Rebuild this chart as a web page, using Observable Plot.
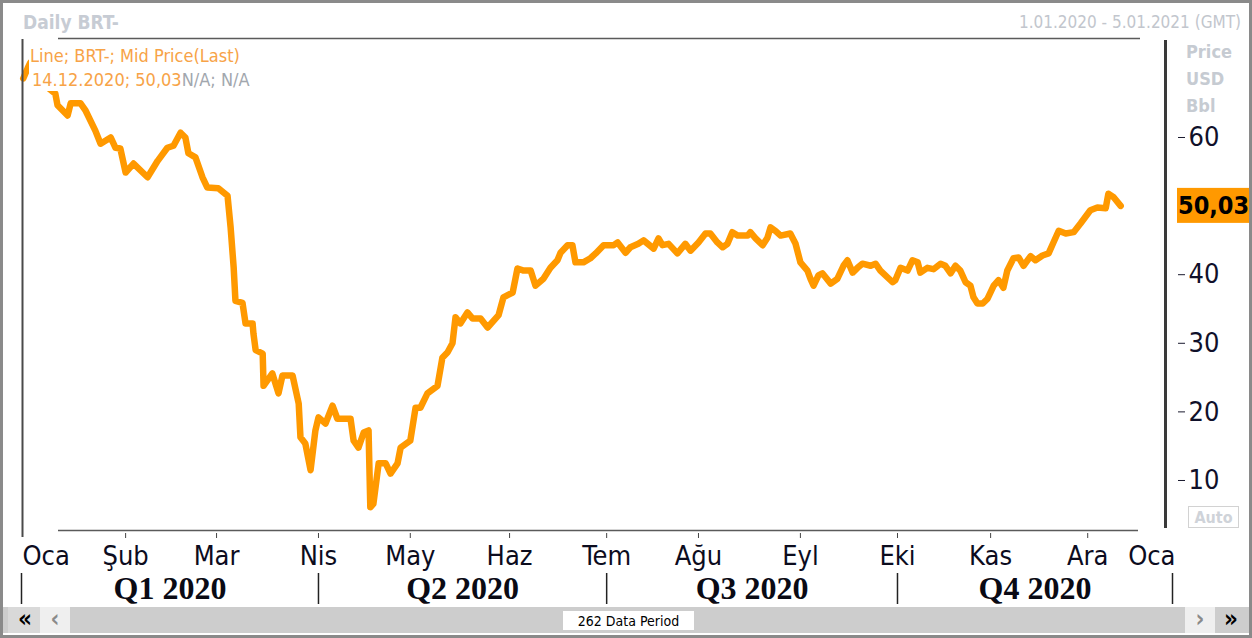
<!DOCTYPE html>
<html><head><meta charset="utf-8">
<script src="https://cdn.jsdelivr.net/npm/d3@7"></script>
<script src="https://cdn.jsdelivr.net/npm/@observablehq/plot@0.6"></script>
<style>
html,body{margin:0;padding:0;background:#fff;}
#chart{position:relative;width:1252px;height:638px;overflow:hidden;}
#chart svg{display:block;}
</style></head><body>
<div id="chart"></div>
<script>
// Trading-period index (0 = 1 Jan 2020, 262 = 1 Jan 2021) and Brent mid price (USD/bbl)
const periods = [0.4,1.4,2.0,3.5,5.0,6.5,7.7,8.2,10.5,11.2,13.4,14.6,16.8,18.0,20.3,21.4,22.5,23.7,25.5,28.7,31.0,33.2,34.6,36.2,37.3,38.0,39.6,41.2,42.3,44.8,46.9,47.6,48.3,48.7,50.3,51.0,52.6,52.8,53.3,54.9,55.1,57.1,58.5,59.4,61.7,63.1,63.5,64.6,65.8,66.9,67.6,69.2,70.8,71.9,74.9,75.6,76.7,77.9,79.0,79.4,80.1,81.3,82.9,84.0,85.6,86.3,88.5,89.7,90.8,92.4,94.7,95.8,97.0,98.1,98.8,99.9,101.5,102.7,104.5,106.1,108.6,109.7,111.8,112.9,114.3,115.9,117.0,118.8,120.4,122.0,122.7,124.3,125.4,126.1,127.9,129.5,130.7,132.5,134.8,135.7,137.5,138.6,140.4,141.6,143.9,145.0,145.9,147.3,149.3,151.1,152.3,154.1,155.7,156.8,158.4,159.6,160.7,161.8,163.0,165.3,165.9,167.1,168.7,169.8,170.5,171.6,172.8,175.0,176.2,177.3,178.9,179.6,180.3,181.4,182.3,184.2,185.7,187.1,188.0,189.2,190.3,191.4,193.3,194.4,195.5,198.3,198.9,200.1,201.7,202.8,204.0,204.6,206.2,207.6,209.2,210.3,211.5,212.6,213.7,214.9,216.0,216.7,217.6,218.8,219.9,221.3,222.4,223.5,224.4,225.8,227.0,228.1,229.7,230.8,232.4,233.8,234.9,236.1,237.7,239.5,241.1,243.3,244.9,246.8,247.4,248.6,250.2];
const prices = [68.6,70.1,70.9,70.0,68.0,67.0,66.4,64.7,63.2,65.0,65.0,63.9,61.0,59.1,60.0,58.5,58.4,54.9,56.2,54.2,56.6,58.5,58.8,60.7,60.0,57.7,57.1,54.2,52.7,52.6,51.5,46.9,41.0,36.2,35.9,32.9,32.9,31.4,29.0,28.5,23.8,25.6,22.7,25.3,25.3,21.2,16.3,15.4,11.5,17.3,19.2,18.3,20.9,19.0,19.0,15.8,14.8,17.0,17.3,6.1,6.6,12.5,12.5,11.0,12.5,14.8,15.8,20.6,20.6,22.7,23.8,27.9,28.7,30.0,33.8,32.9,34.5,33.6,33.6,32.3,34.1,36.7,37.4,40.9,40.6,40.6,38.4,39.4,41.0,42.1,43.2,44.3,44.3,41.8,41.8,42.4,43.1,44.3,44.3,44.7,43.2,44.0,44.5,45.0,43.8,45.3,44.3,44.5,43.1,44.5,43.5,44.7,46.0,46.0,44.7,44.0,44.5,46.2,45.7,45.7,46.2,45.3,44.3,45.4,46.9,46.4,45.7,46.0,44.5,41.8,40.6,39.4,38.4,39.9,40.2,38.7,39.4,41.3,42.1,40.3,41.0,41.6,41.3,41.6,40.6,38.9,39.2,41.0,40.6,42.1,41.8,40.3,41.0,40.8,41.6,41.3,40.2,41.3,40.6,38.9,38.4,36.7,35.8,35.8,36.5,38.4,39.2,38.1,40.6,42.4,42.5,41.3,42.7,42.1,42.8,43.1,44.7,46.4,46.0,46.2,47.5,49.4,49.8,49.7,51.8,51.3,50.03];

const monthTicks  = [0, 23.7, 44.4, 67.6, 88.5, 111.1, 133.2, 154.1, 177.3, 199.4, 220.6, 242.7, 262];
const monthLabels = ["Oca","Şub","Mar","Nis","May","Haz","Tem","Ağu","Eyl","Eki","Kas","Ara","Oca"];
const quarterStarts = [0, 67.6, 133.2, 199.4, 262];
const quarterLabels = ["Q1 2020","Q2 2020","Q3 2020","Q4 2020"];
const yTicks = [10, 20, 30, 40, 60];
const lastLabel = "50,03";
const lastDate = "14.12.2020";
const titleText = "Daily BRT-";
const rangeText = "1.01.2020 - 5.01.2021 (GMT)";
const unitLines = ["Price", "USD", "Bbl"];

const data = periods.map((p, i) => ({period: p, price: prices[i]}));
const months = monthTicks.map((p, i) => ({pos: p, label: monthLabels[i]}));
const quarters = quarterLabels.map((l, i) => ({pos: (quarterStarts[i] + quarterStarts[i + 1]) / 2, label: l}));

const SANS = "'DejaVu Sans Condensed','Liberation Sans Narrow','DejaVu Sans',sans-serif";
const SERIF = "'Liberation Serif','DejaVu Serif',serif";

const chart = Plot.plot({
  width: 1252, height: 638,
  marginLeft: 21, marginRight: 80, marginTop: 38, marginBottom: 108,
  x: {domain: [0, 262], axis: null},
  y: {domain: [2.71, 74.43], axis: null},
  style: {background: "#fff", fontFamily: SANS, overflow: "visible"},
  marks: [
    Plot.line(data, {x: "period", y: "price", stroke: "#ff9900", strokeWidth: 6.5, strokeLinejoin: "round", strokeLinecap: "round"}),
    Plot.axisY({anchor: "right", ticks: yTicks, tickSize: 7, dx: 5, tickPadding: 4, fontSize: 27, stroke: "#1a1a2e", fill: "#10102a", tickFormat: d => String(d), label: null}),
    Plot.axisX({anchor: "bottom", ticks: monthTicks.slice(1, -1), tickSize: 5, dy: 3, stroke: "#444", tickFormat: () => "", label: null}),
    Plot.axisX({anchor: "bottom", ticks: quarterStarts, tickSize: 31, dy: 43, stroke: "#222", strokeWidth: 1.5, tickFormat: () => "", label: null}),
    Plot.text(months.slice(1, -1), {x: "pos", text: "label", frameAnchor: "bottom", dy: 26, fontSize: 27, fill: "#0c0c1e", lineAnchor: "middle"}),
    Plot.text(months.slice(0, 1), {x: "pos", text: "label", frameAnchor: "bottom", dy: 26, dx: 1, fontSize: 27, fill: "#0c0c1e", lineAnchor: "middle", textAnchor: "start"}),
    Plot.text(months.slice(-1), {x: "pos", text: "label", frameAnchor: "bottom", dy: 26, dx: 3, fontSize: 27, fill: "#0c0c1e", lineAnchor: "middle", textAnchor: "end"}),
    Plot.text(quarters, {x: "pos", text: "label", frameAnchor: "bottom", dy: 58, fontSize: 32, fontWeight: "bold", fontFamily: SERIF, fill: "#0a0a14", lineAnchor: "middle"})
  ]
});
document.getElementById("chart").appendChild(chart);

// Chart chrome (frame, legend, value badge, scrollbar)
const svg = d3.select(chart);
const g = svg.append("g");
const ys = chart.scale("y");
const line = (x1, y1, x2, y2, c, w) => g.append("line").attr("x1", x1).attr("y1", y1).attr("x2", x2).attr("y2", y2).attr("stroke", c).attr("stroke-width", w);
const text = (x, y, s, o = {}) => g.append("text").attr("x", x).attr("y", y).text(s)
  .attr("font-family", o.family || SANS).attr("font-size", o.size || 16).attr("font-weight", o.weight || "normal")
  .attr("fill", o.fill || "#000").attr("text-anchor", o.anchor || "start");

line(58, 38.5, 1140, 38.5, "#5a5a5a", 1.5);
line(22.5, 39, 22.5, 537, "#4a4a4a", 2);
line(58, 530.5, 1138, 530.5, "#5a5a5a", 1.5);
line(1165.5, 40, 1165.5, 528, "#3a3a3a", 3);

text(23, 29, titleText, {size: 19, weight: "bold", fill: "#c7ccd4"});
text(1241, 28, rangeText, {size: 17, fill: "#c2c6cd", anchor: "end"});

// legend
g.append("rect").attr("x", 29).attr("y", 43).attr("width", 244).attr("height", 48).attr("fill", "#fff");
text(30, 62, "Line; BRT-; Mid Price(Last)", {size: 18, fill: "#f7a347"});
const t2 = text(32, 86, "", {size: 18, fill: "#f7a347"});
t2.append("tspan").text(lastDate + "; " + lastLabel);
t2.append("tspan").attr("fill", "#a2a7ae").text("N/A; N/A");

// units
unitLines.forEach((u, i) => text(1186, 58 + i * 27, u, {size: 18, weight: "bold", fill: "#c6cbd2"}));

// last value badge
const yl = ys.apply(prices[prices.length - 1]);
g.append("rect").attr("x", 1177).attr("y", yl - 17.5).attr("width", 80).attr("height", 35).attr("fill", "#ff9900");
text(1178, yl + 9, lastLabel, {size: 25, weight: "bold", fill: "#000"});

// auto box
g.append("rect").attr("x", 1188.5).attr("y", 506.5).attr("width", 50).attr("height", 21).attr("fill", "#fff").attr("stroke", "#d2d2d2");
text(1213.5, 523, "Auto", {size: 16, weight: "bold", fill: "#cfd3d9", anchor: "middle"});

// scrollbar
g.append("rect").attr("x", 3).attr("y", 607).attr("width", 1246).attr("height", 26).attr("fill", "#cdcdcd");
g.append("rect").attr("x", 8).attr("y", 607).attr("width", 32).attr("height", 26).attr("fill", "#d9d9d9");
g.append("rect").attr("x", 40).attr("y", 607).attr("width", 30).attr("height", 26).attr("fill", "#efefef");
g.append("rect").attr("x", 1185).attr("y", 607).attr("width", 30).attr("height", 26).attr("fill", "#efefef");
g.append("rect").attr("x", 1215).attr("y", 607).attr("width", 34).attr("height", 26).attr("fill", "#cdcdcd");
text(25, 627, "«", {size: 24, weight: "bold", anchor: "middle"});
text(55, 627, "‹", {size: 24, weight: "bold", fill: "#8a8a8a", anchor: "middle"});
text(1200, 627, "›", {size: 24, weight: "bold", fill: "#8a8a8a", anchor: "middle"});
text(1231, 627, "»", {size: 24, weight: "bold", anchor: "middle"});
g.append("rect").attr("x", 563).attr("y", 611).attr("width", 131).attr("height", 19).attr("fill", "#fff");
text(628.5, 625.5, "262 Data Period", {size: 14, anchor: "middle"});

// outer border
g.append("rect").attr("x", 1.5).attr("y", 1.5).attr("width", 1249).attr("height", 635).attr("fill", "none").attr("stroke", "#8a8a8a").attr("stroke-width", 3);
</script>
</body></html>
